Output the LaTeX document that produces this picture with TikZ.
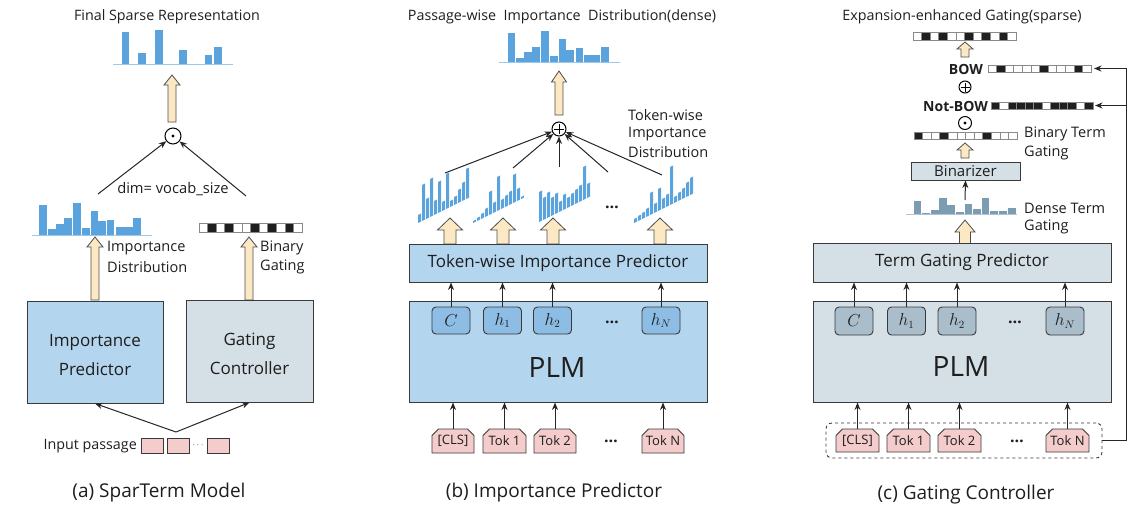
\documentclass[tikz,border=0pt]{standalone}
\usepackage{fontspec}
\setmainfont{Open Sans}
\usetikzlibrary{arrows.meta,shapes.misc}
\definecolor{barblue}{HTML}{5BA3DC}
\definecolor{ipblue}{HTML}{B4D5EE}
\definecolor{ipinner}{HTML}{8DBDE5}
\definecolor{gcgray}{HTML}{D5DFE6}
\definecolor{gcinner}{HTML}{A9BDCA}
\definecolor{tokpink}{HTML}{F4CCCC}
\definecolor{beige}{HTML}{FDE8C4}
\definecolor{densebar}{HTML}{7C9CB2}
\definecolor{edge}{HTML}{3A3A3A}
\definecolor{txt}{HTML}{1E1E1E}
\definecolor{stripgray}{HTML}{8A8A8A}
\newcommand\fatup[6]{%
  \draw[fatarrow] (#1-#6,#4) -- (#1-#6,#3) -- (#1-#5,#3) -- (#1,#2) -- (#1+#5,#3) -- (#1+#6,#3) -- (#1+#6,#4) -- cycle;}
\newcommand\bitstrip[5]{%
  \foreach \b [count=\i from 0] in {#5} {%
    \ifnum\b=1 \def\cc{black!88}\else\def\cc{white}\fi
    \filldraw[draw=stripgray,fill=\cc,line width=0.7pt] (#1+\i*#4,#2) rectangle (#1+\i*#4+#4,#3);}}
\newcommand\barchart[5]{%
  \draw[#1!60,line width=0.9pt] (#3,#2) -- (#4,#2);
  \foreach \a/\c/\t in {#5} \fill[#1] (\a,\t) rectangle (\c,#2);}
\newcommand\skewgroup[3]{%
  \begin{scope}[shift={(#1,#2)},yslant=0.5]
  \foreach \h [count=\i from 0] in {#3} \fill[barblue] (\i*4,0) rectangle (\i*4+3.2,-\h);
  \end{scope}}
\begin{document}
\begin{tikzpicture}[x=1pt,y=-1pt,text=txt,
  lbl/.style={inner sep=0pt,font=\fontsize{14.3}{17}\selectfont},
  slbl/.style={inner sep=0pt,font=\fontsize{14.5}{17}\selectfont,anchor=west},
  blbl/.style={inner sep=0pt,font=\bfseries\fontsize{14}{16}\selectfont,anchor=east},
  captxt/.style={inner sep=0pt,font=\fontsize{19}{23}\selectfont},
  box/.style={draw=edge,line width=1pt,inner sep=0pt,align=center},
  boxtxt/.style={inner sep=0pt,align=center,font=\fontsize{17}{29}\selectfont},
  innernode/.style={draw=edge,line width=0.9pt,rounded corners=4pt,inner sep=0pt,minimum width=38,minimum height=27,font=\fontsize{16}{18}\selectfont},
  tok/.style={draw=edge,line width=0.9pt,fill=tokpink,chamfered rectangle,chamfered rectangle corners={north west,north east},chamfered rectangle xsep=3pt,inner sep=0pt,minimum height=24,font=\fontsize{13}{15}\selectfont},
  fatarrow/.style={draw=edge!90,fill=beige,line width=0.8pt,line join=miter},
  arr/.style={-{Stealth[length=7.5pt,width=6pt]},line width=1pt,draw=black!85},
  dotsty/.style={inner sep=0pt,font=\bfseries\fontsize{16}{16}\selectfont},
  opc/.style={circle,draw=black,line width=1pt,inner sep=0pt}
]
\fill[white] (0,0) rectangle (1139,520);
\useasboundingbox (0,0) rectangle (1139,520);

% ================= Panel (a) =================
\node[lbl] (titleA) at (167,17) {Final Sparse Representation};
\barchart{barblue}{64}{113}{233}{122/129/32,138/146/53,155/163/30,179/187/50,205/212/55,214/222/47}
\fatup{172}{75}{85}{122}{8}{4}
\node[opc,minimum size=16] (odotA) at (173,136) {};
\fill (odotA.center) circle (1.7);
\coordinate (srcAL) at (98,194);
\coordinate (srcAR) at (246,196);
\draw[arr] (srcAL) -- (odotA);
\draw[arr] (srcAR) -- (odotA);
\node[slbl,anchor=center,font=\fontsize{14.7}{17}\selectfont] (dimA) at (173,189) {dim= vocab\_size};
\barchart{barblue}{235}{32}{152}{39/47/205,48/56/229,56/64/224,64/72/218,73/81/203,82/90/228,91/98/211,98/106/221,107/114/220,116/124/227,124/133/227,133/141/218}
\bitstrip{199}{223}{232}{8.6}{0,1,0,1,0,0,1,0,1,0,1,0}
\fatup{95}{237}{247}{300}{8}{4}
\fatup{249}{237}{247}{300}{8}{4}
\node[slbl] (impA1) at (107,248) {Importance};
\node[slbl] (impA2) at (107,267) {Distribution};
\node[slbl] (binA1) at (260,248) {Binary};
\node[slbl] (binA2) at (260,267) {Gating};
\node[box,fill=ipblue,minimum width=136,minimum height=102] (impPred) at (95,352) {};
\node[boxtxt] (impPredT) at (95,355) {Importance\\Predictor};
\node[box,fill=gcgray,minimum width=127,minimum height=102] (gatCtrl) at (249.5,351) {};
\node[boxtxt] (gatCtrlT) at (249.5,354) {Gating\\Controller};
\coordinate (fork) at (176,432);
\draw[arr] (fork) -- (impPred.south);
\draw[arr] (fork) -- (gatCtrl.south);
\node[lbl,anchor=east] (inpA) at (137,446) {Input passage};
\node[tok,minimum width=22,minimum height=15,chamfered rectangle xsep=2.5pt] (pA1) at (152,445.5) {};
\node[tok,minimum width=22,minimum height=15,chamfered rectangle xsep=2.5pt] (pA2) at (178,445.5) {};
\node[inner sep=0pt,font=\fontsize{9}{10}\selectfont] (pAd) at (198,445) {$\cdots$};
\node[tok,minimum width=22,minimum height=15,chamfered rectangle xsep=2.5pt] (pA3) at (218,445.5) {};
\node[captxt] (capA) at (159,493) {(a) SparTerm Model};

% ================= Panel (b) =================
\node[lbl] (titleB) at (562,17) {Passage-wise\ \ Importance\ \ Distribution(dense)};
\barchart{barblue}{62}{499}{620}{508/515/33,516/524/58,524/532/52,532/540/47,541/549/31,550/558/56,559/566/39,566/574/50,576/583/48,584/592/55,592/600/55,601/609/47}
\fatup{559}{71}{82}{115}{7.5}{4}
\node[opc,minimum size=14] (oplusB) at (559,129) {};
\draw[line width=0.9pt] ([yshift=-5pt]oplusB.center) -- ([yshift=5pt]oplusB.center);
\draw[line width=0.9pt] ([xshift=-5pt]oplusB.center) -- ([xshift=5pt]oplusB.center);
\coordinate (sB1) at (445,173);
\coordinate (sB2) at (513,168);
\coordinate (sB3) at (559,167);
\coordinate (sB4) at (608,172);
\coordinate (sB5) at (662,175);
\foreach \s in {sB1,sB2,sB3,sB4,sB5} \draw[arr] (\s) -- (oplusB);
\node[slbl] (twB1) at (628,115) {Token-wise};
\node[slbl] (twB2) at (628,134) {Importance};
\node[slbl] (twB3) at (628,152) {Distribution};
\skewgroup{418}{223}{8,36,20,38,14,31,9,35,6,8,13,18,30}
\skewgroup{473}{223}{2,3,5,8,23,10,34,9,11,13,28,12,2}
\skewgroup{539}{222}{30,22,25,18,20,10,15,10,12,14,16,33,14}
\node[dotsty] (dotsB0) at (612,207) {…};
\skewgroup{634}{223}{4,5,6,8,22,9,22,10,12,38,6,8,10,14,17}
\fatup{450}{218}{230}{244}{12.5}{6}
\fatup{503}{218}{230}{244}{12.5}{6}
\fatup{553}{218}{230}{244}{12.5}{6}
\fatup{660}{218}{230}{244}{12.5}{6}
\node[box,fill=ipblue,minimum width=298,minimum height=38,font=\fontsize{17}{20}\selectfont] (predB) at (558,263) {Token-wise Importance Predictor};
\node[box,fill=ipblue,minimum width=298,minimum height=101] (plmB) at (558,351.5) {};
\node[inner sep=0pt,font=\fontsize{28}{32}\selectfont] (plmBt) at (557,367) {PLM};
\node[innernode,fill=ipinner] (cB) at (451,320.5) {$C$};
\node[innernode,fill=ipinner] (h1B) at (502.5,320.5) {$h_1$};
\node[innernode,fill=ipinner] (h2B) at (552.5,320.5) {$h_2$};
\node[dotsty] (dotsB1) at (612,322) {…};
\node[innernode,fill=ipinner] (hNB) at (661,320.5) {$h_N$};
\foreach \n in {cB,h1B,h2B,hNB} \draw[arr] (\n.north) -- (\n.north |- predB.south);
\node[tok,minimum width=42] (clsB) at (453,441) {[CLS]};
\node[tok,minimum width=43] (t1B) at (504.5,441) {Tok 1};
\node[tok,minimum width=42] (t2B) at (555,441) {Tok 2};
\node[dotsty] (dotsB2) at (611,441) {…};
\node[tok,minimum width=42] (tNB) at (663,441) {Tok N};
\foreach \n in {clsB,t1B,t2B,tNB} \draw[arr] (\n.north) -- (\n.north |- plmB.south);
\node[captxt] (capB) at (554,493) {(b) Importance Predictor};

% ================= Panel (c) =================
\node[lbl] (titleC) at (962,17) {Expansion-enhanced Gating(sparse)};
\bitstrip{913}{32}{40}{8.6}{0,1,0,1,0,0,1,0,1,0,1,0}
\fatup{965}{42}{49}{57}{8}{4}
\node[blbl] (bowC) at (983,69) {BOW};
\bitstrip{988}{65}{72}{8.6}{0,1,0,0,0,0,1,0,0,0,1,0}
\node[opc,minimum size=12] (oplusC) at (965,87) {};
\draw[line width=0.9pt] ([yshift=-4.5pt]oplusC.center) -- ([yshift=4.5pt]oplusC.center);
\draw[line width=0.9pt] ([xshift=-4.5pt]oplusC.center) -- ([xshift=4.5pt]oplusC.center);
\node[blbl] (nbowC) at (988,106) {Not-BOW};
\bitstrip{991}{102}{109}{8.5}{1,0,1,1,1,1,0,1,1,1,0,1}
\node[opc,minimum size=13] (odotC) at (965,123) {};
\fill (odotC.center) circle (1.6);
\bitstrip{914}{132}{139}{8.6}{1,0,0,1,0,0,0,0,1,0,0,0}
\node[slbl] (btC1) at (1024,134) {Binary Term};
\node[slbl] (btC2) at (1024,153) {Gating};
\fatup{965}{143}{150}{158}{8}{4}
\node[box,fill=gcgray,minimum width=109,minimum height=18,font=\fontsize{15}{17}\selectfont] (binC) at (965.5,171) {Binarizer};
\coordinate (denseTop) at (965,200);
\draw[arr] (denseTop) -- (binC.south);
\barchart{densebar}{214}{906}{1017}{914/921/201,922/930/213,931/939/210,939/947/198,947/955/205,956/964/212,965/972/204,973/981/209,982/989/198,990/998/211,999/1007/211,1008/1016/208}
\node[slbl] (dtC1) at (1024,208) {Dense Term};
\node[slbl] (dtC2) at (1024,227) {Gating};
\fatup{965}{220}{232}{244}{10}{5.5}
\node[box,fill=gcgray,minimum width=298,minimum height=39,font=\fontsize{17}{20}\selectfont] (predC) at (962,262.5) {Term Gating Predictor};
\node[box,fill=gcgray,minimum width=298,minimum height=101] (plmC) at (962,351.5) {};
\node[inner sep=0pt,font=\fontsize{28}{32}\selectfont] (plmCt) at (961,366) {PLM};
\node[innernode,fill=gcinner,minimum height=28] (cC) at (854,321) {$C$};
\node[innernode,fill=gcinner,minimum height=28] (h1C) at (906.5,321) {$h_1$};
\node[innernode,fill=gcinner,minimum height=28] (h2C) at (957,321) {$h_2$};
\node[dotsty] (dotsC1) at (1015,322) {…};
\node[innernode,fill=gcinner,minimum height=28] (hNC) at (1065,321) {$h_N$};
\foreach \n in {cC,h1C,h2C,hNC} \draw[arr] (\n.north) -- (\n.north |- predC.south);
\node[draw=edge,dashed,line width=0.9pt,rounded corners=6pt,minimum width=276,minimum height=35,inner sep=0pt] (tokboxC) at (964,440.5) {};
\node[tok,minimum width=43,minimum height=23] (clsC) at (857.5,440.5) {[CLS]};
\node[tok,minimum width=43,minimum height=23] (t1C) at (908.5,440.5) {Tok 1};
\node[tok,minimum width=43,minimum height=23] (t2C) at (959.5,440.5) {Tok 2};
\node[dotsty] (dotsC2) at (1017,441) {…};
\node[tok,minimum width=43,minimum height=23] (tNC) at (1067.5,440.5) {Tok N};
\foreach \n in {clsC,t1C,t2C,tNC} \draw[arr] (\n.north) -- (\n.north |- plmC.south);
\coordinate (fb1) at (1126,440.5);
\coordinate (fb2) at (1126,68.5);
\coordinate (fbm) at (1126,105.5);
\coordinate (bowE) at (1094,68.5);
\coordinate (nbowE) at (1095,105.5);
\draw[arr] (tokboxC.east) -- (fb1) -- (fb2) -- (bowE);
\draw[arr] (fbm) -- (nbowE);
\node[captxt] (capC) at (966,495) {(c) Gating Controller};
\end{tikzpicture}
\end{document}
